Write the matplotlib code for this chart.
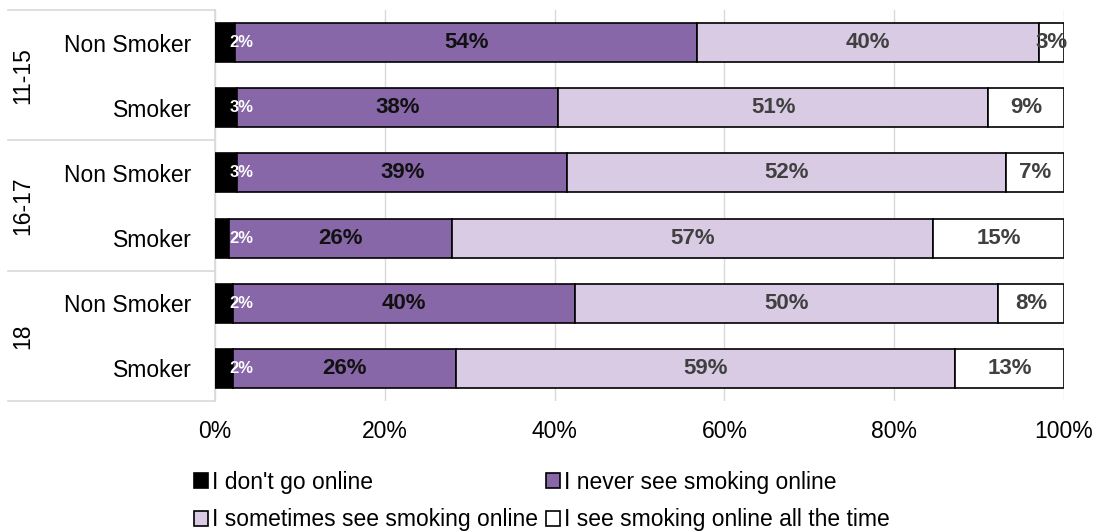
import matplotlib
matplotlib.use("Agg")
import matplotlib.pyplot as plt
from matplotlib.patches import Patch
import numpy as np

plt.rcParams['font.family'] = ['Liberation Sans', 'DejaVu Sans']

groups = ["11-15", "16-17", "18"]
rows = ["Non Smoker", "Smoker", "Non Smoker", "Smoker", "Non Smoker", "Smoker"]
series = ["I don't go online", "I never see smoking online",
          "I sometimes see smoking online", "I see smoking online all the time"]

no_online = [2.4, 2.6, 2.6, 1.6, 2.1, 2.1]
never = [54.4, 37.8, 38.9, 26.3, 40.3, 26.3]
sometimes = [40.3, 50.7, 51.7, 56.7, 49.8, 58.8]
all_time = [2.9, 8.9, 6.8, 15.4, 7.8, 12.8]

colors = ["#000000", "#8767A8", "#D9CBE3", "#FFFFFF"]
label_colors = ["#FFFFFF", "#111111", "#404040", "#404040"]

fig = plt.figure(figsize=(10.99, 5.32), dpi=100)
ax = fig.add_axes([215 / 1099, 1 - 401 / 532, 849 / 1099, 391 / 532])

y = np.arange(len(rows))
left = np.zeros(len(rows))
for i, vals in enumerate([no_online, never, sometimes, all_time]):
    vals = np.array(vals)
    ax.barh(y, vals, left=left, height=0.6, color=colors[i],
            edgecolor="black", linewidth=1.2, label=series[i], zorder=3)
    for j, v in enumerate(vals):
        txt = f"{round(v):.0f}%"
        if i == 0:
            ax.text(left[j] + 1.7, y[j], txt, ha="left", va="center",
                    color=label_colors[i], fontsize=12, fontweight="bold", zorder=4)
        else:
            ax.text(left[j] + v / 2, y[j], txt, ha="center", va="center",
                    color=label_colors[i], fontsize=16, fontweight="bold", zorder=4)
    left += vals

ax.set_xlim(0, 100)
ax.set_ylim(len(rows) - 0.5, -0.5)
ax.set_xticks(np.arange(0, 101, 20))
ax.set_xticklabels([f"{t}%" for t in range(0, 101, 20)])
ax.set_yticks(y)
ax.set_yticklabels(rows)
ax.tick_params(axis="x", length=0, pad=14, labelsize=16.5)
ax.tick_params(axis="y", length=0, pad=17, labelsize=16.5)
ax.grid(axis="x", color="#D9D9D9", linewidth=1, zorder=0)
for s in ["top", "right", "bottom"]:
    ax.spines[s].set_visible(False)
ax.spines["left"].set_color("#D9D9D9")
ax.spines["left"].set_linewidth(1.2)

# group separators and group labels
trans = ax.get_yaxis_transform()
for b in [-0.5, 1.5, 3.5, 5.5]:
    ax.plot([-0.244, 0], [b, b], color="#D9D9D9", linewidth=1.2,
            transform=trans, clip_on=False)
for g, name in enumerate(groups):
    ax.text(-0.226, 2 * g + 0.5, name, rotation=90, ha="center", va="center",
            fontsize=16.5, transform=trans)

handles = [Patch(facecolor=c, edgecolor="black", linewidth=1.2) for c in colors]
order = [0, 2, 1, 3]
fig.legend([handles[k] for k in order], [series[k] for k in order],
           loc="center", bbox_to_anchor=(542 / 1099, 1 - 501 / 532), ncol=2,
           frameon=False, fontsize=16.5, handlelength=0.6, handleheight=0.6,
           handletextpad=0.2, columnspacing=0.35, labelspacing=0.65,
           borderpad=0, borderaxespad=0)

fig.savefig("out.png", dpi=100)
